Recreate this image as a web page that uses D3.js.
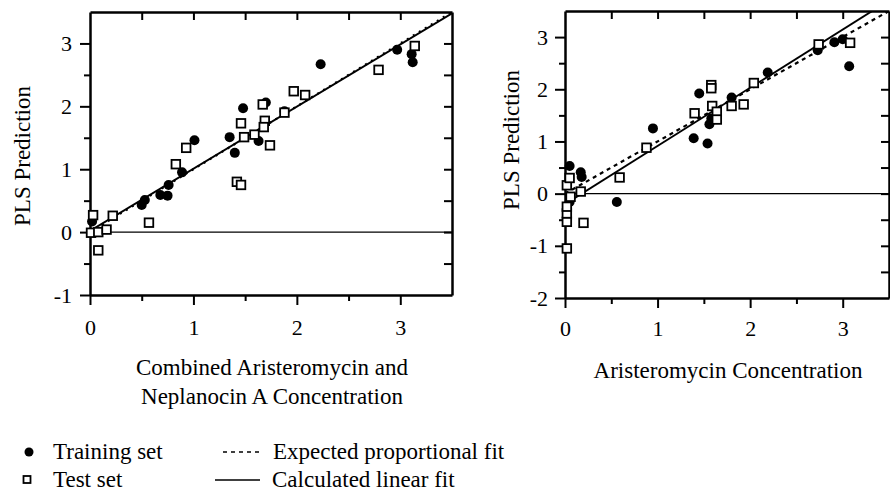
<!DOCTYPE html>
<html><head><meta charset="utf-8">
<script src="https://cdn.jsdelivr.net/npm/d3@7"></script>
<style>
body{margin:0;background:#fff}
svg{display:block}
text{font-family:"Liberation Serif","Times New Roman",serif;fill:#000}
</style>
</head><body>
<svg id="c" width="890" height="495"></svg>
<script>
// ---------- data ----------
const xTickLabels = [0, 1, 2, 3];
const leftYTickLabels = [-1, 0, 1, 2, 3];
const rightYTickLabels = [-2, -1, 0, 1, 2, 3];

// Left panel: combined Aristeromycin + Neplanocin A
const leftTrainX = [0.02, 0.50, 0.53, 0.68, 0.75, 0.76, 0.89, 1.01, 1.35, 1.40, 1.48, 1.63, 1.70, 1.88, 2.23, 2.97, 3.11, 3.12];
const leftTrainY = [0.17, 0.43, 0.51, 0.59, 0.58, 0.75, 0.95, 1.46, 1.51, 1.26, 1.97, 1.45, 2.06, 1.92, 2.67, 2.90, 2.83, 2.70];
const leftTestX = [0.03, 0.01, 0.08, 0.16, 0.08, 0.22, 0.57, 0.83, 0.93, 1.42, 1.46, 1.46, 1.49, 1.59, 1.67, 1.69, 1.68, 1.74, 1.88, 1.97, 2.08, 2.79, 3.14];
const leftTestY = [0.27, -0.01, 0.00, 0.04, -0.29, 0.26, 0.15, 1.08, 1.34, 0.80, 0.75, 1.73, 1.51, 1.55, 2.03, 1.77, 1.67, 1.38, 1.90, 2.24, 2.18, 2.58, 2.96];
const leftLinearFit = [0.02, 0.988];       // [intercept, slope]
const leftProportionalFit = [0, 1];

// Right panel: Aristeromycin
const rightTrainX = [0.05, 0.17, 0.18, 0.05, 0.56, 0.95, 1.39, 1.45, 1.54, 1.56, 1.58, 1.80, 2.19, 2.73, 2.91, 3.00, 3.07];
const rightTrainY = [0.53, 0.41, 0.32, -0.16, -0.16, 1.25, 1.06, 1.92, 0.96, 1.33, 1.44, 1.84, 2.32, 2.75, 2.90, 2.96, 2.44];
const rightTestX = [0.02, 0.02, 0.02, 0.02, 0.02, 0.05, 0.06, 0.20, 0.17, 0.59, 0.88, 1.40, 1.58, 1.58, 1.59, 1.64, 1.64, 1.80, 1.93, 2.04, 2.74, 3.08];
const rightTestY = [-1.05, -0.54, -0.38, -0.25, 0.16, 0.30, -0.06, -0.56, 0.04, 0.31, 0.88, 1.54, 2.08, 2.02, 1.68, 1.57, 1.42, 1.68, 1.71, 2.12, 2.86, 2.89];
const rightLinearFit = [-0.2, 1.115];
const rightProportionalFit = [0, 1];

const legendLabels = ["Training set", "Test set", "Expected proportional fit", "Calculated linear fit"];

// ---------- drawing ----------
const svg = d3.select("#c");
const FS = 23;   // titles & legend
const TFS = 22;  // tick labels

const panels = [
  {id:"L", xr:[90,452], yr:[295,12], yd:[-1,3.5], yTicks:leftYTickLabels,
   trX:leftTrainX, trY:leftTrainY, teX:leftTestX, teY:leftTestY,
   lin:leftLinearFit, prop:leftProportionalFit, dash:"2,5", xPad:14, yPad:8},
  {id:"R", xr:[565,889], yr:[298,11], yd:[-2,3.5], yTicks:rightYTickLabels,
   trX:rightTrainX, trY:rightTrainY, teX:rightTestX, teY:rightTestY,
   lin:rightLinearFit, prop:rightProportionalFit, dash:"4,4", xPad:12, yPad:7}
];

function styleAxis(g, sw){
  g.attr("font-family",null).attr("font-size",null);
  g.selectAll("path.domain").attr("stroke","#000").attr("stroke-width",sw);
  g.selectAll(".tick line").attr("stroke","#000").attr("stroke-width",2);
  g.selectAll(".tick text").style("font-size",TFS+"px");
}

panels.forEach(p=>{
  const x = d3.scaleLinear().domain([0,3.5]).range(p.xr);
  const y = d3.scaleLinear().domain(p.yd).range(p.yr);
  const g = svg.append("g");
  const xMinor = [0.5,1.5,2.5];
  const yMinor = d3.range(p.yd[0]+0.5, 3.5, 1);
  const xAll = d3.range(0.5, 3.5, 0.5);
  const yAll = d3.range(p.yd[0]+0.5, 3.5, 0.5);

  g.append("clipPath").attr("id","clip"+p.id).append("rect")
    .attr("x",p.xr[0]).attr("y",p.yr[1]).attr("width",p.xr[1]-p.xr[0]).attr("height",p.yr[0]-p.yr[1]);

  g.append("line").attr("x1",p.xr[0]).attr("x2",p.xr[1]).attr("y1",y(0)).attr("y2",y(0))
    .attr("stroke","#000").attr("stroke-width",1.4);

  const xs = [0, 3.5];
  const line = d3.line().x(d=>x(d[0])).y(d=>y(d[1]));
  g.append("path").attr("clip-path","url(#clip"+p.id+")")
    .attr("d", line(xs.map(v=>[v, p.prop[0]+p.prop[1]*v])))
    .attr("fill","none").attr("stroke","#000").attr("stroke-width",2.2).attr("stroke-dasharray",p.dash);
  g.append("path").attr("clip-path","url(#clip"+p.id+")")
    .attr("d", line(xs.map(v=>[v, p.lin[0]+p.lin[1]*v])))
    .attr("fill","none").attr("stroke","#000").attr("stroke-width",1.9);

  const b = g.append("g").attr("transform",`translate(0,${p.yr[0]})`)
    .call(d3.axisBottom(x).tickValues(xTickLabels).tickSize(10).tickSizeOuter(0).tickPadding(p.xPad).tickFormat(d3.format("d")));
  styleAxis(b,2.5);
  const bm = g.append("g").attr("transform",`translate(0,${p.yr[0]})`)
    .call(d3.axisBottom(x).tickValues(xMinor).tickSize(6).tickFormat(""));
  bm.select("path.domain").remove(); styleAxis(bm,0);

  const l = g.append("g").attr("transform",`translate(${p.xr[0]},0)`)
    .call(d3.axisLeft(y).tickValues(p.yTicks).tickSize(10).tickSizeOuter(0).tickPadding(p.yPad).tickFormat(d3.format("d")));
  styleAxis(l,2.5);
  l.selectAll(".tick text").text(d=>d<0 ? "-"+Math.abs(d) : d);
  const lm = g.append("g").attr("transform",`translate(${p.xr[0]},0)`)
    .call(d3.axisLeft(y).tickValues(yMinor).tickSize(6).tickFormat(""));
  lm.select("path.domain").remove(); styleAxis(lm,0);

  const t = g.append("g").attr("transform",`translate(0,${p.yr[1]})`)
    .call(d3.axisTop(x).tickValues(xAll).tickSize(-8).tickSizeOuter(0).tickFormat(""));
  styleAxis(t,2.5);
  const r = g.append("g").attr("transform",`translate(${p.xr[1]},0)`)
    .call(d3.axisRight(y).tickValues(yAll).tickSize(-8).tickSizeOuter(0).tickFormat(""));
  styleAxis(r,2.5);

  g.selectAll("circle.tr").data(p.trX.map((v,i)=>[v,p.trY[i]])).join("circle")
    .attr("cx",d=>x(d[0])).attr("cy",d=>y(d[1])).attr("r",5).attr("fill","#000");
  g.selectAll("rect.te").data(p.teX.map((v,i)=>[v,p.teY[i]])).join("rect")
    .attr("x",d=>x(d[0])-4.3).attr("y",d=>y(d[1])-4.3).attr("width",8.6).attr("height",8.6)
    .attr("fill","#fff").attr("stroke","#000").attr("stroke-width",1.8);
});

svg.append("text").attr("transform","translate(22,156) rotate(-90)").attr("text-anchor","middle")
  .attr("dy","0.35em").style("font-size",FS+"px").text("PLS Prediction");
svg.append("text").attr("transform","translate(511,140) rotate(-90)").attr("text-anchor","middle")
  .attr("dy","0.35em").style("font-size",FS+"px").text("PLS Prediction");
svg.append("text").attr("x",272).attr("y",375).attr("text-anchor","middle").style("font-size",FS+"px")
  .text("Combined Aristeromycin and");
svg.append("text").attr("x",272).attr("y",404).attr("text-anchor","middle").style("font-size",FS+"px")
  .text("Neplanocin A Concentration");
svg.append("text").attr("x",728).attr("y",378).attr("text-anchor","middle").style("font-size",FS+"px")
  .text("Aristeromycin Concentration");

const lg = svg.append("g");
lg.append("circle").attr("cx",29).attr("cy",452).attr("r",4.5).attr("fill","#000");
lg.append("text").attr("x",53).attr("y",459).style("font-size",FS+"px").text(legendLabels[0]);
lg.append("rect").attr("x",23.5).attr("y",476).attr("width",7).attr("height",7).attr("fill","#fff").attr("stroke","#000").attr("stroke-width",1.8);
lg.append("text").attr("x",53).attr("y",487).style("font-size",FS+"px").text(legendLabels[1]);
lg.append("line").attr("x1",223).attr("x2",262).attr("y1",452).attr("y2",452).attr("stroke","#000").attr("stroke-width",1.6).attr("stroke-dasharray","4,4");
lg.append("text").attr("x",273).attr("y",459).style("font-size",FS+"px").text(legendLabels[2]);
lg.append("line").attr("x1",215).attr("x2",260).attr("y1",480).attr("y2",480).attr("stroke","#000").attr("stroke-width",1.6);
lg.append("text").attr("x",272).attr("y",487).style("font-size",FS+"px").text(legendLabels[3]);
</script>
</body></html>
